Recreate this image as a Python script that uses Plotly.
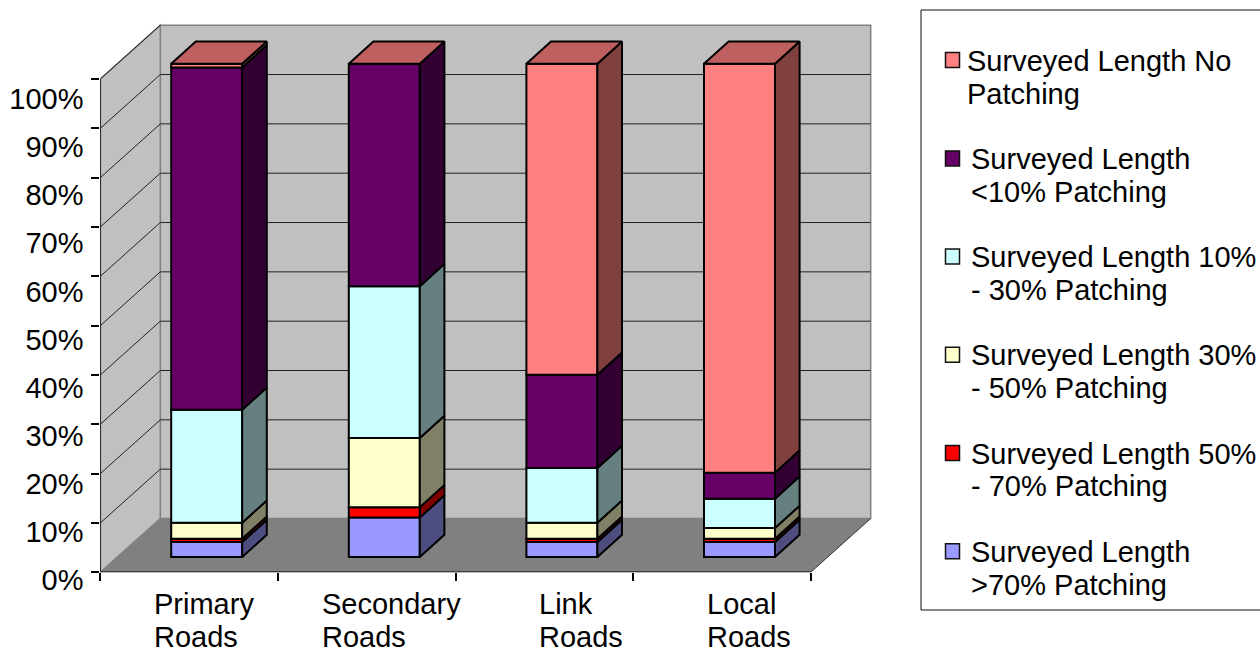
import plotly.graph_objects as go

categories = ["Primary Roads", "Secondary Roads", "Link Roads", "Local Roads"]
series_names = [
    "Surveyed Length >70% Patching",
    "Surveyed Length 50% - 70% Patching",
    "Surveyed Length 30% - 50% Patching",
    "Surveyed Length 10% - 30% Patching",
    "Surveyed Length <10% Patching",
    "Surveyed Length No Patching",
]
legend_lines = [
    ("Surveyed Length", ">70% Patching"),
    ("Surveyed Length 50%", "- 70% Patching"),
    ("Surveyed Length 30%", "- 50% Patching"),
    ("Surveyed Length 10%", "- 30% Patching"),
    ("Surveyed Length", "<10% Patching"),
    ("Surveyed Length No", "Patching"),
]
over_70 = [3.04, 8.0, 3.04, 3.04]
from_50_to_70 = [0.67, 2.1, 0.67, 0.67]
from_30_to_50 = [3.24, 14.0, 3.24, 2.17]
from_10_to_30 = [22.9, 30.8, 11.1, 5.95]
under_10 = [69.4, 45.1, 18.9, 5.27]
no_patching = [0.75, 0.0, 63.05, 82.9]
series_values = [over_70, from_50_to_70, from_30_to_50, from_10_to_30, under_10, no_patching]

front_colors = ["#9999FF", "#FF0000", "#FFFFCC", "#CCFFFF", "#660066", "#FF8080"]
side_colors = ["#4D4D80", "#800000", "#808066", "#668080", "#330033", "#804040"]
top_color = "#BF6060"
y_ticks = list(range(0, 101, 10))
y_labels = [f"{v}%" for v in y_ticks]

W, H = 1260, 648
FONT = "Liberation Sans"
PX_X0, PX_Y0 = 100.3, 572.3
PX_CAT, PX_PCT = 177.6, 4.933
WALL_X, WALL_Y = 60 / PX_CAT, 53.8 / PX_PCT
GAP_X, GAP_Y = 17.6 / PX_CAT, 15.3 / PX_PCT
DEP_X, DEP_Y = 24.6 / PX_CAT, 22.3 / PX_PCT
BAR_W = 71.0 / PX_CAT
XMAX = 4 + WALL_X + 2 / PX_CAT
YMAX = 100 + WALL_Y + 2 / PX_PCT
DOM_X = [PX_X0 / W, (PX_X0 + XMAX * PX_CAT) / W]
DOM_Y = [(H - PX_Y0) / H, (H - PX_Y0 + YMAX * PX_PCT) / H]

def px_x(px):
    return px / W

def px_y(py):
    return (H - py) / H

def path(points):
    return "M" + " L".join(f"{x:.5f},{y:.4f}" for x, y in points) + " Z"

def poly(points, fill, line="rgba(0,0,0,0)", width=0):
    return dict(type="path", path=path(points), xref="x", yref="y", layer="below",
                fillcolor=fill, line=dict(color=line, width=width))

def seg(x0, y0, x1, y1, color, width=1):
    return dict(type="line", x0=x0, y0=y0, x1=x1, y1=y1, xref="x", yref="y", layer="below",
                line=dict(color=color, width=width))

shapes = [
    poly([(WALL_X, WALL_Y), (4 + WALL_X, WALL_Y), (4 + WALL_X, 100 + WALL_Y), (WALL_X, 100 + WALL_Y)], "#C0C0C0", "#808080", 1.5),
    poly([(0, 0), (WALL_X, WALL_Y), (WALL_X, 100 + WALL_Y), (0, 100)], "#C0C0C0", "#808080", 1.5),
    poly([(0, 0), (4, 0), (4 + WALL_X, WALL_Y), (WALL_X, WALL_Y)], "#808080"),
    seg(4, 0, 4 + WALL_X, WALL_Y, "#333333", 1),
]
for v in y_ticks[1:-1] + [100]:
    shapes.append(seg(0, v, WALL_X, v + WALL_Y, "#222222", 1))
    if v < 100:
        shapes.append(seg(WALL_X, v + WALL_Y, 4 + WALL_X, v + WALL_Y, "#222222", 1))
# legend box
shapes.append(dict(type="rect", xref="paper", yref="paper", x0=px_x(921), x1=px_x(1266),
                   y0=px_y(610), y1=px_y(10), fillcolor="white",
                   line=dict(color="#111111", width=1), layer="below"))

fig = go.Figure()
centers = [i + 0.5 + GAP_X for i in range(len(categories))]
bases = [0.0] * len(categories)
for s, values in enumerate(series_values):
    fig.add_trace(go.Bar(
        x=centers, y=values, base=[b + GAP_Y for b in bases], width=BAR_W, name=series_names[s],
        marker=dict(color=front_colors[s], line=dict(color="black", width=2)),
        showlegend=False, hoverinfo="skip",
    ))
    for i, v in enumerate(values):
        if v <= 0:
            continue
        xr = centers[i] + BAR_W / 2
        lo, hi = bases[i] + GAP_Y, bases[i] + v + GAP_Y
        fig.add_trace(go.Scatter(
            x=[xr, xr + DEP_X, xr + DEP_X, xr, xr], y=[lo, lo + DEP_Y, hi + DEP_Y, hi, lo],
            mode="lines", fill="toself", fillcolor=side_colors[s],
            line=dict(color="black", width=2), showlegend=False, hoverinfo="skip",
        ))
    bases = [b + v for b, v in zip(bases, values)]
for i, c in enumerate(centers):
    xl, xr = c - BAR_W / 2, c + BAR_W / 2
    top = bases[i] + GAP_Y
    fig.add_trace(go.Scatter(
        x=[xl, xr, xr + DEP_X, xl + DEP_X, xl], y=[top, top, top + DEP_Y, top + DEP_Y, top],
        mode="lines", fill="toself", fillcolor=top_color,
        line=dict(color="black", width=2), showlegend=False, hoverinfo="skip", cliponaxis=False,
    ))
# axis lines
fig.add_trace(go.Scatter(x=[0, 0, 4], y=[100, 0, 0], mode="lines", line=dict(color="black", width=1.5),
                         showlegend=False, hoverinfo="skip", cliponaxis=False))
# carrier for the value-axis labels
fig.add_trace(go.Scatter(x=[None], y=[None], yaxis="y2", showlegend=False, hoverinfo="skip"))

def text_note(text, px, py):
    return dict(text=text.replace("<", "&lt;").replace(">", "&gt;"), x=px_x(px), y=px_y(py),
                xref="paper", yref="paper", xanchor="left", yanchor="middle", showarrow=False,
                font=dict(family=FONT, size=29, color="black"))

LABEL_PX = [152, 320, 537, 705]
annotations = []
for name, px in zip(categories, LABEL_PX):
    for line, py in zip(name.split(" "), (604, 637)):
        annotations.append(text_note(line, px, py))

# legend, top entry first: lines are spaced as in the reference
LEG_TOP = [60, 158.4, 256.6, 354.8, 453, 551.2]
for row, s in enumerate(reversed(range(len(series_values)))):
    y0 = LEG_TOP[row]
    shapes.append(dict(type="rect", xref="paper", yref="paper", x0=px_x(945.5), x1=px_x(959.5),
                       y0=px_y(y0 + 7.5), y1=px_y(y0 - 7.5), fillcolor=front_colors[s],
                       line=dict(color="#111111", width=1.5), layer="above"))
    tx = 965 if row == 0 else 968.5
    annotations.append(text_note(legend_lines[s][0], tx, y0 + 0.5))
    annotations.append(text_note(legend_lines[s][1], tx, y0 + 33.5))

fig.update_layout(
    width=W, height=H, autosize=False, margin=dict(l=0, r=0, t=0, b=0, autoexpand=False),
    paper_bgcolor="white", plot_bgcolor="rgba(0,0,0,0)", barmode="overlay",
    font=dict(family=FONT, size=29, color="black"), showlegend=False,
    xaxis=dict(domain=DOM_X, range=[0, XMAX], tickmode="array", tickvals=[0, 1, 2, 3, 4], ticktext=[""] * 5,
               ticks="outside", ticklen=8, tickcolor="black", tickwidth=1.5, showgrid=False, zeroline=False,
               showline=False, fixedrange=True),
    yaxis=dict(domain=DOM_Y, range=[0, YMAX], tickmode="array", tickvals=y_ticks, ticktext=[""] * 11,
               ticks="outside", ticklen=8, tickcolor="black", tickwidth=1.5, showgrid=False, zeroline=False,
               showline=False, fixedrange=True),
    yaxis2=dict(domain=[(H - 580) / H, (H - 99) / H], range=[0, 100], anchor="x", tickmode="array",
                tickvals=y_ticks, ticktext=y_labels, ticks="outside", ticklen=10, tickcolor="rgba(0,0,0,0)",
                tickfont=dict(family=FONT, size=29, color="black"), showgrid=False, zeroline=False,
                showline=False, fixedrange=True),
    shapes=shapes, annotations=annotations,
)
fig.write_html("out.html", config=dict(displayModeBar=False),
               post_script="document.body.style.margin='0';document.body.style.overflow='hidden';")
